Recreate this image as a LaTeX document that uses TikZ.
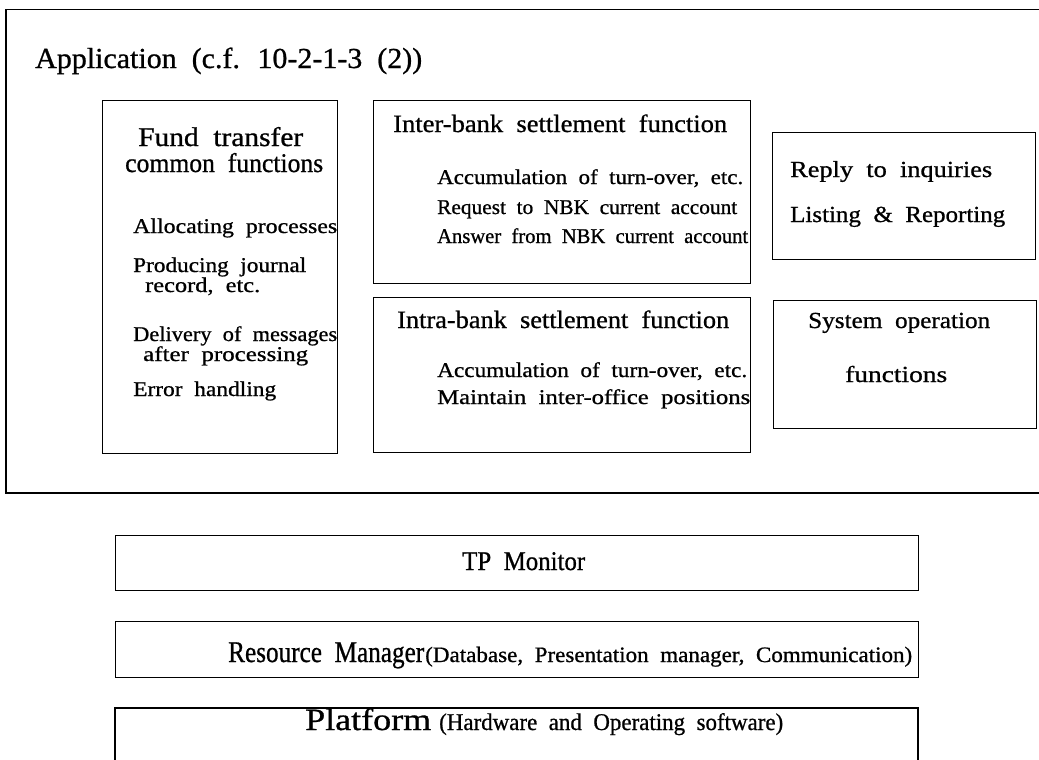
\documentclass[tikz,border=0pt]{standalone}
\usepackage{fontspec}
\setmainfont{Liberation Serif}[WordSpace=2,FakeBold=0.8]
\usepackage{graphicx}
% set a line of text to a given width, keeping its height
\newcommand\fitw[2]{\resizebox{#1pt}{\height}{#2}}
\tikzset{
  frame/.style={draw=black, line width=1.3pt},
  panel/.style={frame, inner sep=0pt, anchor=north west},
  txt/.style={inner sep=0pt, anchor=base west},
  fs/.style={font=\fontsize{#1}{#1}\selectfont},
}
\begin{document}
\begin{tikzpicture}[x=1pt,y=-1pt]
\clip (0,0) rectangle (1039,760);
\fill[white] (0,0) rectangle (1039,760);

% application layer (open to the right)
\draw[frame] (1045,9.5) -- (6,9.5) -- (6,493) -- (1045,493);
\node[txt, fs=29] (app) at (35,68) {\fitw{387}{Application (c.f. 10-2-1-3 (2))}};

% fund transfer common functions
\node[panel, minimum width=235pt, minimum height=353pt] (fund) at (102,100) {};
\node[txt, fs=27] (f0a) at (138,146) {\fitw{165}{Fund transfer}};
\node[txt, fs=27] (f0b) at (125,172) {\fitw{198}{common functions}};
\node[txt, fs=21] (f1) at (133,233) {\fitw{204}{Allocating processes}};
\node[txt, fs=21] (f2a) at (133,272) {\fitw{173}{Producing journal}};
\node[txt, fs=21] (f2b) at (145,292) {\fitw{115}{record, etc.}};
\node[txt, fs=21] (f3a) at (133,341) {\fitw{204}{Delivery of messages}};
\node[txt, fs=21] (f3b) at (143,361) {\fitw{165}{after processing}};
\node[txt, fs=21] (f4) at (133,396) {\fitw{143}{Error handling}};

% inter-bank settlement
\node[panel, minimum width=377pt, minimum height=183pt] (inter) at (373,100) {};
\node[txt, fs=25] (i0) at (393,132) {\fitw{334}{Inter-bank settlement function}};
\node[txt, fs=21] (i1) at (437,184) {\fitw{306}{Accumulation of turn-over, etc.}};
\node[txt, fs=21] (i2) at (437,214) {\fitw{300}{Request to NBK current account}};
\node[txt, fs=21] (i3) at (437,243) {\fitw{311}{Answer from NBK current account}};

% intra-bank settlement
\node[panel, minimum width=377pt, minimum height=155pt] (intra) at (373,297) {};
\node[txt, fs=25] (j0) at (397,328) {\fitw{332}{Intra-bank settlement function}};
\node[txt, fs=21] (j1) at (437,377) {\fitw{310}{Accumulation of turn-over, etc.}};
\node[txt, fs=21] (j2) at (437,404) {\fitw{313}{Maintain inter-office positions}};

% inquiries and reporting
\node[panel, minimum width=263pt, minimum height=127pt] (reply) at (772,132) {};
\node[txt, fs=23] (r1) at (790,177) {\fitw{202}{Reply to inquiries}};
\node[txt, fs=23] (r2) at (790,222) {\fitw{215}{Listing \& Reporting}};

% system operation
\node[panel, minimum width=263pt, minimum height=128pt] (sysop) at (773,300) {};
\node[txt, fs=23] (s1) at (808,328) {\fitw{182}{System operation}};
\node[txt, fs=23] (s2) at (845,382) {\fitw{102}{functions}};

% lower layers
\node[panel, minimum width=803pt, minimum height=55pt] (tp) at (115,535) {};
\node[txt, fs=27] (tpt) at (462,570) {\fitw{123}{TP Monitor}};

\node[panel, minimum width=803pt, minimum height=56pt] (res) at (115,621) {};
\node[txt, fs=30] (rm1) at (228,662) {\fitw{196}{Resource Manager}};
\node[txt, fs=22] (rm2) at (425,662) {\fitw{487}{(Database, Presentation manager, Communication)}};

\draw[frame] (115,775) -- (115,708) -- (918,708) -- (918,775);
\node[txt, fs=31] (pf1) at (305,730) {\fitw{126}{Platform}};
\node[txt, fs=24] (pf2) at (439,730) {\fitw{344}{(Hardware and Operating software)}};
\end{tikzpicture}
\end{document}
